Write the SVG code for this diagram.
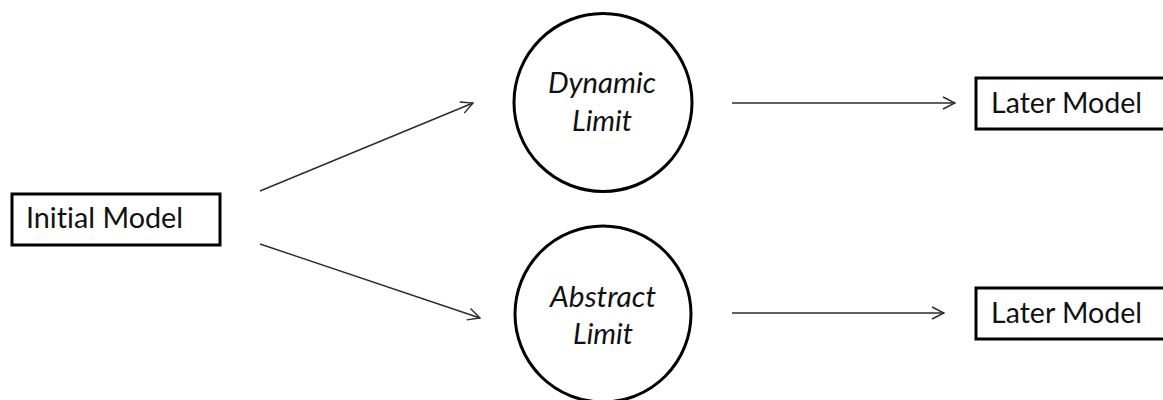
<svg xmlns="http://www.w3.org/2000/svg" width="1163" height="400" viewBox="0 0 1163 400">
  <style>
    .box { fill: #ffffff; stroke: #000000; stroke-width: 3; }
    .ring { fill: #ffffff; stroke: #000000; stroke-width: 3; }
    .label { font-family: Lato, "Open Sans", "Liberation Sans", sans-serif; font-size: 28px; fill: #111111; font-variant-ligatures: none; font-feature-settings: "liga" 0, "clig" 0; }
    .ital { font-style: italic; text-anchor: middle; }
    .link { stroke: #2b2b2b; stroke-width: 1.4; fill: none; marker-end: url(#chevron); }
  </style>
  <defs>
    <marker id="chevron" markerUnits="userSpaceOnUse" viewBox="0 0 14 14" refX="13" refY="7" markerWidth="14" markerHeight="14" orient="auto">
      <path d="M1,1 L13,7 L1,13" fill="none" stroke="#2b2b2b" stroke-width="1.4"/>
    </marker>
  </defs>

  <rect width="1163" height="400" fill="#ffffff"/>

  <g id="connectors">
    <line class="link" x1="260" y1="191" x2="473" y2="103"/>
    <line class="link" x1="260" y1="244" x2="480" y2="318"/>
    <line class="link" x1="732" y1="103" x2="955" y2="103"/>
    <line class="link" x1="732" y1="313" x2="944" y2="313"/>
  </g>

  <g id="initial-model">
    <rect class="box" x="12" y="194" width="208" height="51"/>
    <text class="label" x="26" y="228" textLength="157" lengthAdjust="spacingAndGlyphs">Initial Model</text>
  </g>

  <g id="dynamic-limit">
    <circle class="ring" cx="603" cy="102.5" r="89"/>
    <text class="label ital" x="602" y="93" textLength="108" lengthAdjust="spacingAndGlyphs">Dynamic</text>
    <text class="label ital" x="602" y="131" textLength="60" lengthAdjust="spacingAndGlyphs">Limit</text>
  </g>

  <g id="abstract-limit">
    <circle class="ring" cx="603" cy="314" r="88"/>
    <text class="label ital" x="603" y="307" textLength="106" lengthAdjust="spacingAndGlyphs">Abstract</text>
    <text class="label ital" x="603" y="344" textLength="60" lengthAdjust="spacingAndGlyphs">Limit</text>
  </g>

  <g id="later-model-top">
    <rect class="box" x="976" y="78" width="200" height="51"/>
    <text class="label" x="991" y="113" textLength="151" lengthAdjust="spacingAndGlyphs">Later Model</text>
  </g>

  <g id="later-model-bottom">
    <rect class="box" x="976" y="288" width="200" height="51"/>
    <text class="label" x="991" y="323" textLength="151" lengthAdjust="spacingAndGlyphs">Later Model</text>
  </g>
</svg>
